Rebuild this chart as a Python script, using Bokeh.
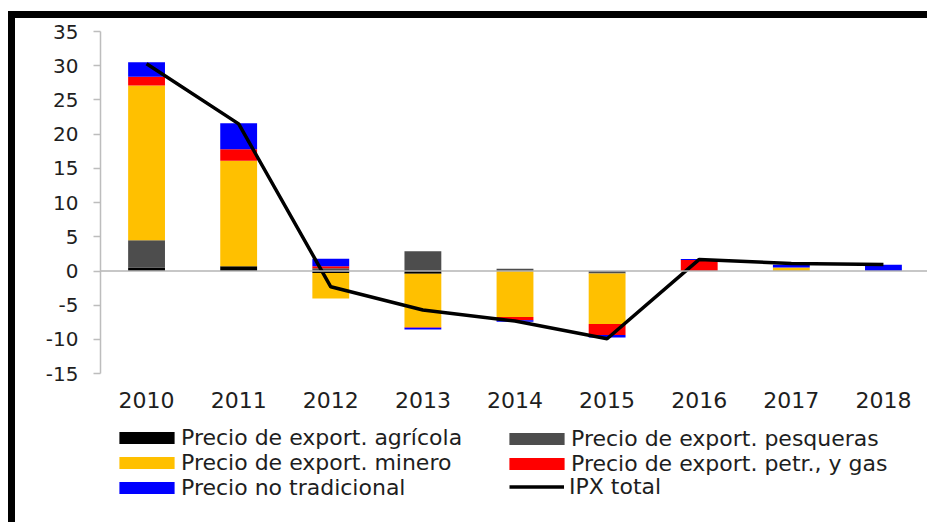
import numpy as np
from bokeh.plotting import figure
from bokeh.models import FactorRange, Range1d, FixedTicker, Span, Legend, LegendItem
from bokeh.core.properties import value
from bokeh.embed import file_html
from bokeh.resources import INLINE

years = ["2010", "2011", "2012", "2013", "2014", "2015", "2016", "2017", "2018"]
agricola = [0.5, 0.7, -0.3, -0.4, 0.0, 0.0, 0.0, 0.0, 0.0]
pesqueras = [4.0, 0.0, 0.4, 2.9, 0.35, -0.35, 0.0, 0.0, 0.0]
minero = [22.6, 15.4, -3.7, -7.8, -6.7, -7.4, 0.0, 0.5, 0.0]
petr_gas = [1.3, 1.7, 0.3, -0.1, -0.5, -1.6, 1.6, 0.0, 0.0]
no_tradicional = [2.1, 3.8, 1.1, -0.25, -0.2, -0.35, 0.15, 0.4, 0.9]
ipx_total = [30.3, 21.5, -2.3, -5.7, -7.3, -9.9, 1.7, 1.1, 0.95]
y_ticks = [-15, -10, -5, 0, 5, 10, 15, 20, 25, 30, 35]

names = ["Precio de export. agrícola", "Precio de export. pesqueras",
         "Precio de export. minero", "Precio de export. petr., y gas",
         "Precio no tradicional", "IPX total"]
colors = ["#000000", "#4d4d4d", "#FFC000", "#FF0000", "#0000FF"]

FONT = "DejaVu Sans"
TXT = "#1e1e1e"
Y_MIN_AXIS, Y_MAX_AXIS = -15, 35
Y_FRAME_MIN = -36.6      # frame extends below the axis to host the legend
YEAR_LABEL_Y = -18.8     # position of the category labels

p = figure(x_range=FactorRange(*years), y_range=Range1d(Y_FRAME_MIN, Y_MAX_AXIS),
           width=919, height=511, output_backend="svg", toolbar_location=None,
           x_axis_location=None,
           min_border_left=85, min_border_right=5, min_border_top=13, min_border_bottom=8)
p.styles = {"border-top": "7px solid black", "border-left": "7px solid black",
            "margin-top": "11px", "margin-left": "8px"}
p.outline_line_color = None
p.xgrid.visible = False
p.ygrid.visible = False
p.background_fill_color = "white"
p.border_fill_color = "white"

series = [agricola, pesqueras, minero, petr_gas, no_tradicional]
pos = np.zeros(len(years))
neg = np.zeros(len(years))
bar_renderers = []
for vals, col in zip(series, colors):
    v = np.array(vals, dtype=float)
    bottom = np.where(v >= 0, pos, neg)
    top = bottom + v
    pos = np.where(v >= 0, top, pos)
    neg = np.where(v < 0, top, neg)
    r = p.vbar(x=years, bottom=bottom, top=top, width=0.4,
               fill_color=col, line_color=None)
    bar_renderers.append(r)

zero = Span(location=0, dimension="width", line_color="#b5b5b5", line_width=1.5, level="glyph")
p.add_layout(zero)

line_r = p.line(x=years, y=ipx_total, line_color="black", line_width=3.5)

# category labels
p.text(x=years, y=[YEAR_LABEL_Y] * len(years), text=years,
       text_font=value(FONT), text_font_size="22px", text_color=TXT,
       text_align="center", text_baseline="middle")

# y axis
p.yaxis.bounds = (Y_MIN_AXIS, Y_MAX_AXIS)
p.yaxis.ticker = FixedTicker(ticks=y_ticks)
p.yaxis.major_label_overrides = {t: str(t) for t in y_ticks}
p.yaxis.axis_line_color = "#bdbdbd"
p.yaxis.axis_line_width = 1.5
p.yaxis.major_tick_line_color = "#bdbdbd"
p.yaxis.major_tick_line_width = 1.5
p.yaxis.major_tick_out = 7
p.yaxis.major_tick_in = 0
p.yaxis.minor_tick_line_color = None
p.yaxis.major_label_text_font = FONT
p.yaxis.major_label_text_font_size = "20px"
p.yaxis.major_label_text_color = TXT
p.yaxis.major_label_standoff = 15


def make_legend(items, loc, gw, standoff):
    lg = Legend(items=items, location=loc, orientation="vertical",
                glyph_width=gw, glyph_height=15, label_standoff=standoff,
                spacing=-2, padding=0, margin=0, border_line_color=None,
                background_fill_alpha=0, label_text_font=FONT,
                label_text_font_size="22px", label_text_color=TXT)
    p.add_layout(lg)
    return lg


make_legend([LegendItem(label=names[0], renderers=[bar_renderers[0]]),
             LegendItem(label=names[2], renderers=[bar_renderers[2]]),
             LegendItem(label=names[4], renderers=[bar_renderers[4]])],
            (12, 21), 69, 0)
make_legend([LegendItem(label=names[1], renderers=[bar_renderers[1]]),
             LegendItem(label=names[3], renderers=[bar_renderers[3]])],
            (402, 45), 69, 0)
make_legend([LegendItem(label=names[5], renderers=[line_r])],
            (409, 22), 55, 5)

open("out.html", "w").write(file_html(p, INLINE))
